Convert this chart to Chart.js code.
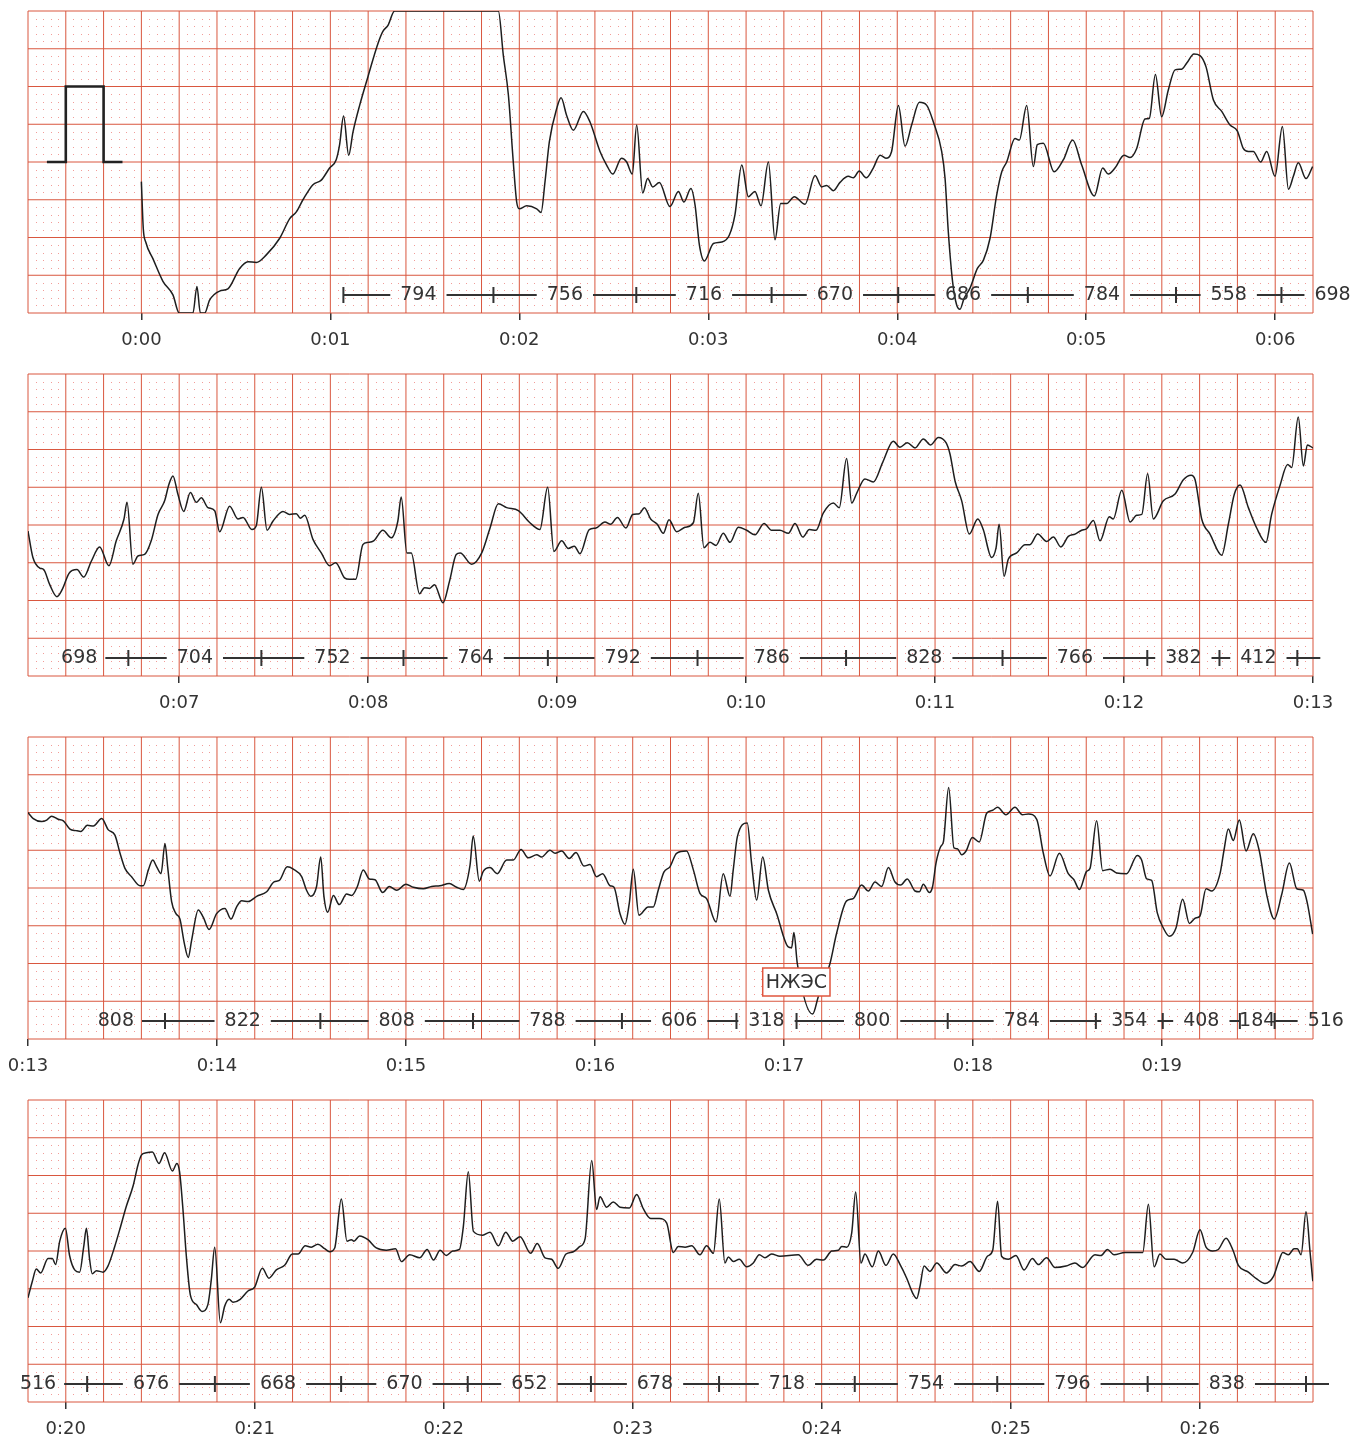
<!DOCTYPE html>
<html>
<head>
<meta charset="utf-8">
<script src="https://cdn.jsdelivr.net/npm/chart.js@4.4.1/dist/chart.umd.min.js"></script>
<style>
  body { margin: 0; background: #fff; width: 1353px; height: 1436px; position: relative; overflow: hidden; }
  canvas { position: absolute; left: 0; }
</style>
</head>
<body>
<canvas id="strip0" width="1353" height="363" style="top:0px"></canvas>
<canvas id="strip1" width="1353" height="363" style="top:363px"></canvas>
<canvas id="strip2" width="1353" height="363" style="top:726px"></canvas>
<canvas id="strip3" width="1353" height="363" style="top:1089px"></canvas>
<script>
// strips: start time (s), every strip shows 6.8 s, amplitude -2..2 mV
const stripStarts = [-0.6, 6.2, 13.0, 19.8];
const stripLength = 6.8;
const secondTicks = [
    [0, 1, 2, 3, 4, 5, 6],
    [7, 8, 9, 10, 11, 12, 13],
    [13, 14, 15, 16, 17, 18, 19],
    [20, 21, 22, 23, 24, 25, 26]
];

// 1 mV calibration pulse
const calibration = [[-0.5, 0], [-0.4, 0], [-0.4, 1], [-0.2, 1], [-0.2, 0], [-0.1, 0]];

// ECG trace [time s, mV]
const strip1 = [[0.000,-0.26],[0.010,-0.88],[0.023,-1.06],[0.061,-1.28],[0.114,-1.58],[0.167,-1.76],[0.200,-2.0],[0.273,-2.0],[0.294,-1.65],[0.312,-2.0],[0.335,-2.0],[0.361,-1.83],[0.414,-1.71],[0.458,-1.68],[0.520,-1.41],[0.564,-1.32],[0.608,-1.33],[0.661,-1.23],[0.732,-1.01],[0.785,-0.75],[0.820,-0.66],[0.855,-0.50],[0.908,-0.30],[0.952,-0.24],[0.996,-0.08],[1.031,0.03],[1.049,0.23],[1.070,0.61],[1.097,0.09],[1.120,0.40],[1.155,0.75],[1.199,1.13],[1.252,1.57],[1.278,1.73],[1.305,1.81],[1.340,2.0],[1.889,2.0],[1.915,1.42],[1.942,0.89],[1.968,0.0],[1.986,-0.53],[2.000,-0.62],[2.039,-0.58],[2.092,-0.62],[2.115,-0.67],[2.136,-0.26],[2.159,0.27],[2.198,0.71],[2.221,0.85],[2.250,0.62],[2.286,0.42],[2.339,0.67],[2.374,0.53],[2.427,0.14],[2.462,-0.04],[2.494,-0.16],[2.541,0.05],[2.568,0.0],[2.598,-0.16],[2.621,0.49],[2.653,-0.41],[2.679,-0.22],[2.706,-0.33],[2.741,-0.27],[2.797,-0.59],[2.842,-0.39],[2.871,-0.53],[2.908,-0.35],[2.930,-0.57],[2.953,-1.10],[2.979,-1.31],[3.027,-1.08],[3.071,-1.06],[3.111,-0.97],[3.141,-0.70],[3.177,-0.04],[3.212,-0.46],[3.247,-0.39],[3.279,-0.58],[3.318,0.0],[3.353,-1.03],[3.383,-0.55],[3.415,-0.55],[3.455,-0.46],[3.512,-0.56],[3.565,-0.18],[3.600,-0.33],[3.626,-0.31],[3.662,-0.38],[3.697,-0.27],[3.741,-0.19],[3.768,-0.21],[3.799,-0.12],[3.835,-0.21],[3.873,-0.08],[3.909,0.09],[3.940,0.05],[3.970,0.14],[4.006,0.75],[4.041,0.21],[4.076,0.49],[4.117,0.79],[4.156,0.75],[4.191,0.53],[4.235,0.14],[4.253,-0.22],[4.270,-0.92],[4.293,-1.59],[4.314,-1.89],[4.332,-1.95],[4.353,-1.81],[4.385,-1.67],[4.424,-1.41],[4.456,-1.30],[4.491,-1.01],[4.526,-0.44],[4.553,-0.13],[4.579,0.0],[4.623,0.31],[4.646,0.29],[4.685,0.75],[4.720,-0.06],[4.741,0.23],[4.773,0.25],[4.830,-0.13],[4.879,0.03],[4.928,0.29],[4.976,-0.04],[5.043,-0.45],[5.087,-0.08],[5.117,-0.16],[5.152,-0.08],[5.200,0.09],[5.232,0.06],[5.267,0.18],[5.311,0.57],[5.334,0.58],[5.366,1.16],[5.399,0.60],[5.434,0.95],[5.470,1.22],[5.505,1.23],[5.532,1.31],[5.570,1.43],[5.602,1.41],[5.634,1.26],[5.673,0.82],[5.717,0.67],[5.761,0.49],[5.800,0.41],[5.831,0.18],[5.858,0.14],[5.884,0.14],[5.923,0.0],[5.955,0.14],[5.999,-0.19],[6.038,0.47],[6.070,-0.36],[6.096,-0.19],[6.122,-0.01],[6.163,-0.22],[6.198,-0.06]];

const strip2 = [[6.200,-0.08],[6.226,-0.43],[6.262,-0.57],[6.283,-0.59],[6.315,-0.79],[6.353,-0.95],[6.382,-0.85],[6.417,-0.64],[6.459,-0.59],[6.495,-0.69],[6.535,-0.48],[6.579,-0.29],[6.628,-0.54],[6.667,-0.21],[6.708,0.08],[6.724,0.30],[6.755,-0.52],[6.782,-0.41],[6.817,-0.39],[6.852,-0.21],[6.888,0.14],[6.923,0.32],[6.946,0.54],[6.967,0.65],[6.993,0.41],[7.024,0.18],[7.059,0.43],[7.091,0.30],[7.117,0.36],[7.152,0.23],[7.188,0.19],[7.214,-0.09],[7.267,0.25],[7.311,0.08],[7.338,0.10],[7.385,-0.06],[7.408,-0.01],[7.435,0.50],[7.465,-0.07],[7.496,0.05],[7.549,0.18],[7.584,0.14],[7.620,0.15],[7.641,0.09],[7.664,0.13],[7.708,-0.19],[7.752,-0.37],[7.796,-0.54],[7.828,-0.50],[7.875,-0.70],[7.902,-0.72],[7.934,-0.72],[7.972,-0.26],[7.999,-0.23],[8.029,-0.21],[8.078,-0.07],[8.122,-0.17],[8.157,0.05],[8.175,0.37],[8.205,-0.37],[8.228,-0.37],[8.272,-0.91],[8.298,-0.83],[8.325,-0.84],[8.351,-0.79],[8.396,-1.03],[8.431,-0.74],[8.466,-0.39],[8.487,-0.37],[8.548,-0.52],[8.601,-0.37],[8.645,-0.04],[8.689,0.28],[8.733,0.23],[8.795,0.19],[8.856,0.03],[8.909,-0.06],[8.950,0.50],[8.983,-0.35],[9.024,-0.21],[9.059,-0.31],[9.091,-0.28],[9.121,-0.38],[9.170,-0.06],[9.206,-0.04],[9.253,0.04],[9.283,0.01],[9.319,0.10],[9.364,-0.04],[9.400,0.14],[9.435,0.15],[9.462,0.23],[9.495,0.08],[9.530,0.01],[9.562,-0.11],[9.592,0.07],[9.633,-0.09],[9.677,-0.03],[9.721,0.03],[9.747,0.42],[9.777,-0.30],[9.809,-0.23],[9.841,-0.27],[9.879,-0.11],[9.915,-0.23],[9.959,-0.03],[10.003,-0.07],[10.047,-0.13],[10.095,0.02],[10.135,-0.07],[10.179,-0.07],[10.224,-0.11],[10.259,0.02],[10.300,-0.16],[10.335,-0.06],[10.370,-0.07],[10.409,0.16],[10.462,0.29],[10.493,0.23],[10.532,0.88],[10.559,0.29],[10.585,0.42],[10.629,0.61],[10.673,0.57],[10.723,0.83],[10.779,1.11],[10.814,1.03],[10.853,1.09],[10.894,1.02],[10.938,1.14],[10.977,1.06],[11.017,1.16],[11.058,1.09],[11.079,0.94],[11.106,0.58],[11.141,0.32],[11.181,-0.12],[11.226,0.08],[11.255,-0.06],[11.299,-0.43],[11.323,-0.30],[11.339,0.01],[11.365,-0.68],[11.388,-0.45],[11.432,-0.37],[11.476,-0.26],[11.502,-0.26],[11.543,-0.12],[11.591,-0.22],[11.626,-0.16],[11.666,-0.29],[11.705,-0.15],[11.741,-0.12],[11.776,-0.07],[11.802,-0.05],[11.838,0.06],[11.873,-0.21],[11.922,0.11],[11.943,0.08],[11.988,0.46],[12.032,0.04],[12.067,0.13],[12.094,0.14],[12.125,0.68],[12.155,0.08],[12.208,0.32],[12.270,0.41],[12.314,0.60],[12.355,0.66],[12.376,0.60],[12.411,0.08],[12.455,-0.12],[12.517,-0.40],[12.552,0.01],[12.584,0.41],[12.614,0.53],[12.658,0.23],[12.702,-0.04],[12.751,-0.23],[12.781,0.14],[12.825,0.52],[12.866,0.80],[12.887,0.76],[12.922,1.43],[12.949,0.78],[12.970,1.06],[13.000,1.02]];

const strip3 = [[13.000,1.00],[13.028,0.92],[13.072,0.88],[13.099,0.90],[13.125,0.95],[13.160,0.91],[13.187,0.89],[13.222,0.78],[13.254,0.76],[13.280,0.75],[13.314,0.83],[13.346,0.82],[13.390,0.92],[13.425,0.77],[13.460,0.70],[13.487,0.46],[13.513,0.26],[13.548,0.15],[13.593,0.03],[13.610,0.03],[13.637,0.24],[13.660,0.37],[13.681,0.28],[13.704,0.19],[13.725,0.59],[13.739,0.28],[13.760,-0.18],[13.783,-0.34],[13.804,-0.41],[13.827,-0.73],[13.848,-0.92],[13.866,-0.69],[13.901,-0.29],[13.928,-0.39],[13.958,-0.55],[13.998,-0.34],[14.042,-0.27],[14.074,-0.41],[14.104,-0.25],[14.131,-0.17],[14.166,-0.18],[14.210,-0.11],[14.263,-0.05],[14.302,0.08],[14.330,0.10],[14.372,0.28],[14.404,0.25],[14.448,0.15],[14.474,-0.03],[14.496,-0.11],[14.527,0.02],[14.549,0.41],[14.566,-0.11],[14.586,-0.32],[14.616,-0.10],[14.647,-0.22],[14.686,-0.08],[14.713,-0.10],[14.743,0.02],[14.774,0.24],[14.806,0.12],[14.836,0.11],[14.877,-0.06],[14.912,0.02],[14.951,-0.03],[15.000,0.05],[15.039,0.01],[15.092,-0.01],[15.136,0.02],[15.180,0.03],[15.229,0.06],[15.268,0.01],[15.303,-0.02],[15.339,0.30],[15.356,0.69],[15.388,0.09],[15.409,0.22],[15.445,0.27],[15.483,0.19],[15.533,0.37],[15.568,0.37],[15.609,0.51],[15.647,0.40],[15.692,0.44],[15.718,0.41],[15.762,0.50],[15.789,0.46],[15.824,0.49],[15.864,0.39],[15.900,0.47],[15.942,0.29],[15.974,0.31],[16.009,0.15],[16.041,0.19],[16.080,0.03],[16.101,0.01],[16.133,-0.34],[16.159,-0.48],[16.182,-0.20],[16.203,0.25],[16.233,-0.36],[16.282,-0.25],[16.309,-0.25],[16.335,-0.03],[16.365,0.21],[16.397,0.28],[16.432,0.46],[16.485,0.49],[16.521,0.24],[16.556,-0.07],[16.591,-0.14],[16.641,-0.45],[16.679,0.19],[16.715,-0.11],[16.732,0.24],[16.754,0.68],[16.806,0.86],[16.829,0.33],[16.856,-0.16],[16.888,0.41],[16.918,-0.03],[16.962,-0.34],[17.023,-0.78],[17.041,-0.79],[17.053,-0.59],[17.071,-1.00],[17.152,-1.67],[17.182,-1.44],[17.244,-1.00],[17.279,-0.60],[17.332,-0.17],[17.367,-0.14],[17.411,0.04],[17.447,-0.04],[17.482,0.08],[17.517,0.02],[17.553,0.27],[17.588,0.08],[17.618,0.04],[17.653,0.12],[17.694,-0.04],[17.717,-0.05],[17.738,0.05],[17.770,-0.06],[17.787,0.02],[17.805,0.33],[17.830,0.55],[17.844,0.61],[17.872,1.33],[17.900,0.53],[17.918,0.52],[17.941,0.44],[17.964,0.49],[17.997,0.67],[18.034,0.61],[18.073,0.99],[18.105,1.03],[18.131,1.07],[18.175,0.97],[18.223,1.07],[18.262,0.97],[18.294,0.98],[18.338,0.91],[18.373,0.46],[18.408,0.16],[18.458,0.46],[18.505,0.19],[18.535,0.11],[18.564,-0.02],[18.602,0.22],[18.620,0.26],[18.655,0.89],[18.687,0.23],[18.726,0.25],[18.761,0.20],[18.814,0.19],[18.870,0.43],[18.893,0.37],[18.920,0.12],[18.946,0.10],[18.976,-0.33],[19.008,-0.53],[19.040,-0.64],[19.075,-0.53],[19.110,-0.15],[19.146,-0.47],[19.176,-0.40],[19.202,-0.37],[19.234,-0.01],[19.264,-0.04],[19.308,0.19],[19.329,0.50],[19.352,0.78],[19.378,0.63],[19.410,0.90],[19.446,0.49],[19.484,0.72],[19.516,0.49],[19.555,-0.09],[19.595,-0.41],[19.634,-0.09],[19.675,0.33],[19.714,-0.01],[19.749,-0.03],[19.770,-0.20],[19.798,-0.61]];

const strip4 = [[19.800,-0.62],[19.823,-0.40],[19.844,-0.24],[19.867,-0.29],[19.906,-0.10],[19.929,-0.10],[19.946,-0.18],[19.968,0.13],[19.998,0.30],[20.020,-0.06],[20.047,-0.25],[20.073,-0.28],[20.095,0.06],[20.109,0.30],[20.126,-0.11],[20.140,-0.30],[20.162,-0.26],[20.197,-0.28],[20.223,-0.20],[20.259,0.06],[20.285,0.28],[20.320,0.59],[20.356,0.86],[20.382,1.14],[20.400,1.27],[20.426,1.30],[20.458,1.31],[20.493,1.16],[20.523,1.30],[20.564,1.06],[20.588,1.16],[20.602,1.05],[20.620,0.55],[20.638,-0.07],[20.659,-0.58],[20.691,-0.71],[20.721,-0.80],[20.752,-0.71],[20.770,-0.38],[20.788,0.05],[20.818,-0.95],[20.841,-0.73],[20.864,-0.64],[20.885,-0.68],[20.923,-0.64],[20.964,-0.53],[20.999,-0.48],[21.040,-0.23],[21.075,-0.36],[21.114,-0.25],[21.158,-0.19],[21.199,-0.04],[21.229,-0.04],[21.267,0.07],[21.299,0.05],[21.334,0.09],[21.370,0.03],[21.396,-0.01],[21.423,0.04],[21.458,0.69],[21.488,0.13],[21.511,0.15],[21.525,0.13],[21.555,0.20],[21.599,0.15],[21.643,0.04],[21.696,0.01],[21.745,0.03],[21.776,-0.14],[21.820,-0.05],[21.873,-0.09],[21.912,0.02],[21.946,-0.12],[21.981,0.01],[22.013,-0.06],[22.048,0.00],[22.083,0.02],[22.104,0.33],[22.130,1.05],[22.157,0.26],[22.206,0.21],[22.245,0.25],[22.289,0.07],[22.328,0.25],[22.365,0.13],[22.404,0.19],[22.460,-0.03],[22.495,0.10],[22.536,-0.09],[22.571,-0.11],[22.606,-0.23],[22.647,-0.04],[22.686,-0.01],[22.721,0.06],[22.748,0.16],[22.783,1.20],[22.809,0.55],[22.827,0.72],[22.862,0.58],[22.897,0.65],[22.933,0.58],[22.982,0.57],[23.021,0.75],[23.056,0.56],[23.095,0.43],[23.141,0.43],[23.180,0.37],[23.215,-0.02],[23.241,0.06],[23.277,0.05],[23.312,0.07],[23.356,-0.05],[23.391,0.07],[23.427,-0.03],[23.458,0.69],[23.488,-0.16],[23.506,-0.08],[23.533,-0.14],[23.564,-0.11],[23.603,-0.21],[23.638,-0.16],[23.670,-0.05],[23.700,-0.09],[23.735,-0.04],[23.779,-0.07],[23.876,-0.05],[23.929,-0.19],[23.973,-0.11],[24.009,-0.12],[24.053,0.00],[24.088,0.01],[24.106,0.06],[24.132,0.05],[24.159,0.24],[24.180,0.78],[24.208,-0.16],[24.229,-0.04],[24.268,-0.21],[24.300,0.00],[24.340,-0.19],[24.379,-0.04],[24.415,-0.18],[24.450,-0.36],[24.482,-0.56],[24.503,-0.63],[24.520,-0.47],[24.542,-0.20],[24.573,-0.27],[24.609,-0.16],[24.661,-0.29],[24.706,-0.18],[24.741,-0.20],[24.785,-0.14],[24.834,-0.27],[24.877,-0.07],[24.905,0.01],[24.931,0.66],[24.952,-0.07],[24.988,-0.11],[25.028,-0.06],[25.071,-0.25],[25.115,-0.10],[25.147,-0.18],[25.190,-0.09],[25.235,-0.22],[25.293,-0.20],[25.340,-0.16],[25.381,-0.22],[25.446,-0.05],[25.478,-0.06],[25.512,0.02],[25.547,-0.05],[25.605,-0.02],[25.699,-0.02],[25.729,0.62],[25.759,-0.21],[25.790,-0.04],[25.822,-0.11],[25.865,-0.11],[25.910,-0.16],[25.963,-0.02],[26.002,0.28],[26.034,0.05],[26.069,0.00],[26.099,0.02],[26.140,0.17],[26.178,0.00],[26.205,-0.19],[26.258,-0.28],[26.302,-0.37],[26.346,-0.43],[26.390,-0.34],[26.417,-0.15],[26.440,-0.02],[26.470,-0.05],[26.500,0.03],[26.517,0.03],[26.537,-0.05],[26.563,0.52],[26.585,-0.03],[26.599,-0.40]];

const traces = [strip1, strip2, strip3, strip4];

// R-R intervals (ms), first detected beat at 1.069 s
const firstBeat = 1.069;
const rrIntervals = [794, 756, 716, 670, 686, 784, 558, 698, 704, 752, 764, 792, 786, 828, 766, 382, 412,
    808, 822, 808, 788, 606, 318, 800, 784, 354, 408, 184, 516, 676, 668, 670, 652, 678, 718, 754, 796, 838];
const beatNotes = [{ time: 17.066, text: 'НЖЭС' }];

const beats = [firstBeat];
rrIntervals.forEach((rr, i) => beats.push(beats[i] + rr / 1000));

const INK = '#333333';
const FONT = '"DejaVu Sans", sans-serif';

const ecgPaper = {
    id: 'ecgPaper',
    beforeDatasetsDraw(chart) {
        const { ctx, chartArea: a, scales: { x, y } } = chart;
        const t0 = x.min;
        ctx.save();
        // small squares: dots at 0.04 s / 0.1 mV
        ctx.fillStyle = '#f29c98';
        for (let i = 0; i <= 170; i++) {
            if (i % 5 === 0) continue;
            const px = Math.round(x.getPixelForValue(t0 + i * 0.04));
            for (let j = 0; j <= 40; j++) {
                if (j % 5 === 0) continue;
                const py = Math.round(y.getPixelForValue(-2 + j * 0.1));
                ctx.fillRect(px, py, 1, 1);
            }
        }
        // big squares: 0.2 s / 0.5 mV
        ctx.strokeStyle = '#d9573f';
        ctx.lineWidth = 1;
        ctx.beginPath();
        for (let i = 0; i <= 34; i++) {
            const px = x.getPixelForValue(t0 + i * 0.2);
            ctx.moveTo(px, a.top);
            ctx.lineTo(px, a.bottom);
        }
        for (let j = 0; j <= 8; j++) {
            const py = y.getPixelForValue(-2 + j * 0.5);
            ctx.moveTo(a.left, py);
            ctx.lineTo(a.right, py);
        }
        ctx.stroke();
        ctx.restore();
    }
};

const rrRow = {
    id: 'rrRow',
    afterDatasetsDraw(chart) {
        const { ctx, chartArea: a, scales: { x, y } } = chart;
        const t0 = x.min, t1 = x.max;
        const rowY = a.bottom - 18;
        const gap = 10, stub = 23;
        const inside = t => t !== undefined && t >= t0 && t <= t1;

        ctx.save();
        ctx.font = '19px ' + FONT;
        ctx.textBaseline = 'middle';
        ctx.fillStyle = INK;
        ctx.strokeStyle = INK;
        ctx.lineWidth = 2;
        const seg = (x1, x2) => {
            if (x2 - x1 <= 0) return;
            ctx.beginPath();
            ctx.moveTo(x1, rowY);
            ctx.lineTo(x2, rowY);
            ctx.stroke();
        };

        for (let i = 0; i < beats.length; i++) {
            const ta = beats[i], tb = beats[i + 1];
            const label = i < rrIntervals.length ? String(rrIntervals[i]) : null;
            const w = label ? ctx.measureText(label).width : 0;
            if (inside(ta)) {
                const xa = x.getPixelForValue(ta);
                ctx.beginPath();
                ctx.moveTo(xa, rowY - 8);
                ctx.lineTo(xa, rowY + 8);
                ctx.stroke();
                if (inside(tb)) {
                    const xb = x.getPixelForValue(tb);
                    const cx = (xa + xb) / 2;
                    seg(xa, cx - w / 2 - gap);
                    seg(cx + w / 2 + gap, xb);
                    ctx.textAlign = 'center';
                    ctx.fillText(label, cx, rowY);
                } else {
                    seg(xa, xa + stub);
                    if (label && xa + stub + gap + w <= chart.width) {
                        ctx.textAlign = 'left';
                        ctx.fillText(label, xa + stub + gap, rowY);
                    }
                }
            } else if (ta < t0 && inside(tb)) {
                const xb = x.getPixelForValue(tb);
                seg(xb - stub, xb);
                ctx.textAlign = 'right';
                ctx.fillText(label, xb - stub - 8, rowY);
            }
        }

        // beat annotations
        beatNotes.forEach(n => {
            if (!inside(n.time)) return;
            const px = x.getPixelForValue(n.time);
            const py = a.bottom - 57;
            const w = ctx.measureText(n.text).width + 6;
            const h = 28;
            ctx.fillStyle = '#ffffff';
            ctx.fillRect(px - w / 2, py - h / 2, w, h);
            ctx.strokeStyle = '#e0553d';
            ctx.lineWidth = 1.5;
            ctx.strokeRect(px - w / 2, py - h / 2, w, h);
            ctx.fillStyle = INK;
            ctx.textAlign = 'center';
            ctx.fillText(n.text, px, py + 1);
        });
        ctx.restore();
    }
};

Chart.defaults.font.family = FONT;

stripStarts.forEach((start, k) => {
    const datasets = [{
        data: traces[k].map(p => ({ x: p[0], y: p[1] })),
        borderColor: '#1e1e1e',
        borderWidth: 1.5,
        pointRadius: 0,
        cubicInterpolationMode: 'monotone',
        fill: false
    }];
    if (k === 0) {
        datasets.push({
            data: calibration.map(p => ({ x: p[0], y: p[1] })),
            borderColor: '#222222',
            borderWidth: 2.6,
            pointRadius: 0,
            tension: 0,
            fill: false
        });
    }

    new Chart(document.getElementById('strip' + k), {
        type: 'line',
        data: { datasets },
        options: {
            responsive: false,
            animation: false,
            devicePixelRatio: 1,
            events: [],
            layout: { padding: { left: 28, right: 40, top: 11, bottom: 0 }, autoPadding: false },
            plugins: { legend: { display: false }, tooltip: { enabled: false } },
            scales: {
                x: {
                    type: 'linear',
                    min: start,
                    max: start + stripLength,
                    afterBuildTicks: s => { s.ticks = secondTicks[k].map(v => ({ value: v })); },
                    afterFit: s => {
                        s.height = 50;
                        s.paddingLeft = 0;
                        s.paddingRight = 0;
                        s.paddingTop = 0;
                        s.paddingBottom = 0;
                    },
                    border: { display: false },
                    grid: { drawOnChartArea: false, drawTicks: true, tickLength: 7, color: INK, lineWidth: 1.5 },
                    ticks: {
                        color: INK,
                        font: { size: 18 },
                        padding: 10,
                        maxRotation: 0,
                        autoSkip: false,
                        callback: v => '0:' + String(v).padStart(2, '0')
                    }
                },
                y: { display: false, min: -2, max: 2 }
            }
        },
        plugins: [ecgPaper, rrRow]
    });
});
</script>
</body>
</html>
